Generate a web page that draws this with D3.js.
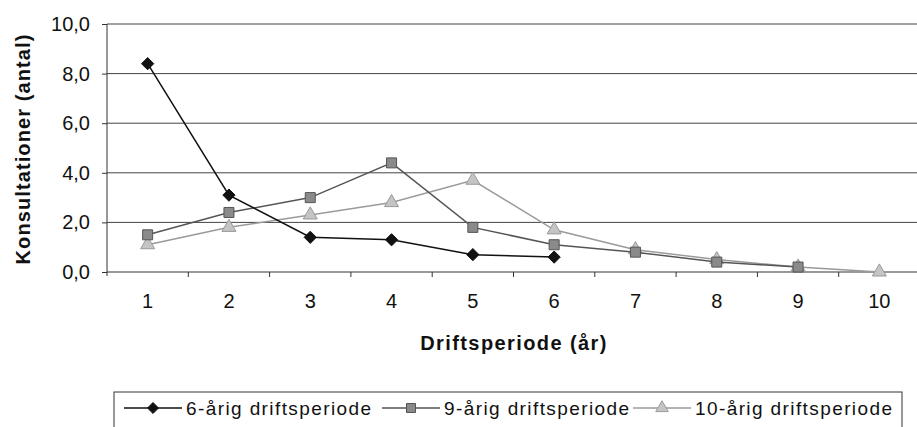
<!DOCTYPE html>
<html>
<head>
<meta charset="utf-8">
<script src="https://cdn.jsdelivr.net/npm/d3@7"></script>
<style>
  html, body { margin: 0; padding: 0; background: #fff; }
  svg { display: block; font-family: "Liberation Sans", Arial, sans-serif; }
</style>
</head>
<body>
<div id="chart"></div>
<script>
// Data
const years = [1, 2, 3, 4, 5, 6, 7, 8, 9, 10];
const yTicks = [0, 2, 4, 6, 8, 10];
const seriesNames = ['6-årig driftsperiode', '9-årig driftsperiode', '10-årig driftsperiode'];
const sixYear = [8.4, 3.1, 1.4, 1.3, 0.7, 0.6];
const nineYear = [1.5, 2.4, 3.0, 4.4, 1.8, 1.1, 0.8, 0.4, 0.2];
const tenYear = [1.1, 1.8, 2.3, 2.8, 3.7, 1.7, 0.9, 0.5, 0.2, 0.0];

const width = 917;
const height = 427;
const margin = { top: 24, right: -3, bottom: 155, left: 107 };

const svg = d3.select('#chart')
  .append('svg')
  .attr('width', width)
  .attr('height', height);

const plotW = width - margin.left - margin.right;
const plotH = height - margin.top - margin.bottom;

const g = svg.append('g')
  .attr('transform', `translate(${margin.left},${margin.top})`);

// Scales
const x = d3.scaleBand()
  .domain(years)
  .range([0, plotW]);

const y = d3.scaleLinear()
  .domain([0, 10])
  .range([plotH, 0]);

const fmt = d => d3.format('.1f')(d).replace('.', ',');

// square diamond (equal diagonals), like the Excel marker
const diamond = {
  draw(context, size) {
    const r = Math.sqrt(size) / 2;
    context.moveTo(0, -r);
    context.lineTo(r, 0);
    context.lineTo(0, r);
    context.lineTo(-r, 0);
    context.closePath();
  }
};

// Gridlines
g.append('g')
  .selectAll('line')
  .data(yTicks.filter(d => d > 0))
  .enter()
  .append('line')
  .attr('x1', 0)
  .attr('x2', plotW)
  .attr('y1', d => y(d))
  .attr('y2', d => y(d))
  .attr('stroke', '#444')
  .attr('stroke-width', 1);

// Y axis
const yAxis = g.append('g')
  .call(d3.axisLeft(y).tickValues(yTicks).tickFormat(fmt).tickSize(5).tickPadding(12));
yAxis.select('.domain').attr('d', `M0,0V${plotH + 4}`).attr('stroke', '#333');
yAxis.selectAll('.tick line').attr('stroke', '#333');
yAxis.selectAll('.tick text')
  .attr('font-size', 20)
  .attr('font-family', '"Liberation Sans", Arial, sans-serif')
  .attr('fill', '#111');

// X axis, ticks sit between categories
const xAxis = g.append('g')
  .attr('transform', `translate(0,${plotH})`);
xAxis.append('line')
  .attr('x1', 0)
  .attr('x2', plotW)
  .attr('stroke', '#333');
xAxis.selectAll('line.tk')
  .data(years)
  .enter()
  .append('line')
  .attr('class', 'tk')
  .attr('x1', d => x(d) + x.bandwidth())
  .attr('x2', d => x(d) + x.bandwidth())
  .attr('y1', 0)
  .attr('y2', 5)
  .attr('stroke', '#333');
xAxis.selectAll('text')
  .data(years)
  .enter()
  .append('text')
  .attr('x', d => x(d) + x.bandwidth() / 2)
  .attr('y', 36)
  .attr('text-anchor', 'middle')
  .attr('font-size', 20)
  .attr('fill', '#111')
  .text(d => d);

// Axis titles
svg.append('text')
  .attr('transform', `translate(30,${margin.top + plotH / 2 + 1}) rotate(-90)`)
  .attr('text-anchor', 'middle')
  .attr('font-size', 20)
  .attr('font-weight', 'bold')
  .attr('letter-spacing', 1.1)
  .attr('fill', '#111')
  .text('Konsultationer (antal)');

svg.append('text')
  .attr('x', 514)
  .attr('y', 350)
  .attr('text-anchor', 'middle')
  .attr('font-size', 20)
  .attr('font-weight', 'bold')
  .attr('letter-spacing', 1.4)
  .attr('fill', '#111')
  .text('Driftsperiode (år)');

// Series
const series = [
  { name: seriesNames[0], values: sixYear, line: '#111', fill: '#111', shape: diamond, size: 150 },
  { name: seriesNames[1], values: nineYear, line: '#555', fill: '#8a8a8a', shape: d3.symbolSquare, size: 100 },
  { name: seriesNames[2], values: tenYear, line: '#9a9a9a', fill: '#c4c4c4', shape: d3.symbolTriangle, size: 85 }
];

const line = d3.line()
  .x((d, i) => x(years[i]) + x.bandwidth() / 2)
  .y(d => y(d));

series.slice().reverse().forEach(s => {
  g.append('path')
    .datum(s.values)
    .attr('d', line)
    .attr('fill', 'none')
    .attr('stroke', s.line)
    .attr('stroke-width', 1.5);
  g.selectAll(null)
    .data(s.values)
    .enter()
    .append('path')
    .attr('d', d3.symbol().type(s.shape).size(s.size))
    .attr('transform', (d, i) => `translate(${x(years[i]) + x.bandwidth() / 2},${y(d)})`)
    .attr('fill', s.fill)
    .attr('stroke', s.line)
    .attr('stroke-width', 1);
});

// Legend
const legend = svg.append('g').attr('transform', 'translate(114,392)');
legend.append('rect')
  .attr('x', 0)
  .attr('y', 0)
  .attr('width', 788)
  .attr('height', 40)
  .attr('fill', 'none')
  .attr('stroke', '#333');

const entryX = [10, 268, 519];
series.forEach((s, i) => {
  const e = legend.append('g').attr('transform', `translate(${entryX[i]},0)`);
  e.append('line')
    .attr('x1', 0)
    .attr('x2', 58)
    .attr('y1', 16)
    .attr('y2', 16)
    .attr('stroke', s.line)
    .attr('stroke-width', 1.5);
  e.append('path')
    .attr('d', d3.symbol().type(s.shape).size(s.size * 0.8))
    .attr('transform', 'translate(29,16)')
    .attr('fill', s.fill)
    .attr('stroke', s.line);
  e.append('text')
    .attr('x', 62)
    .attr('y', 23)
    .attr('font-size', 19)
    .attr('letter-spacing', 1.4)
    .attr('fill', '#111')
    .text(s.name);
});
</script>
</body>
</html>
